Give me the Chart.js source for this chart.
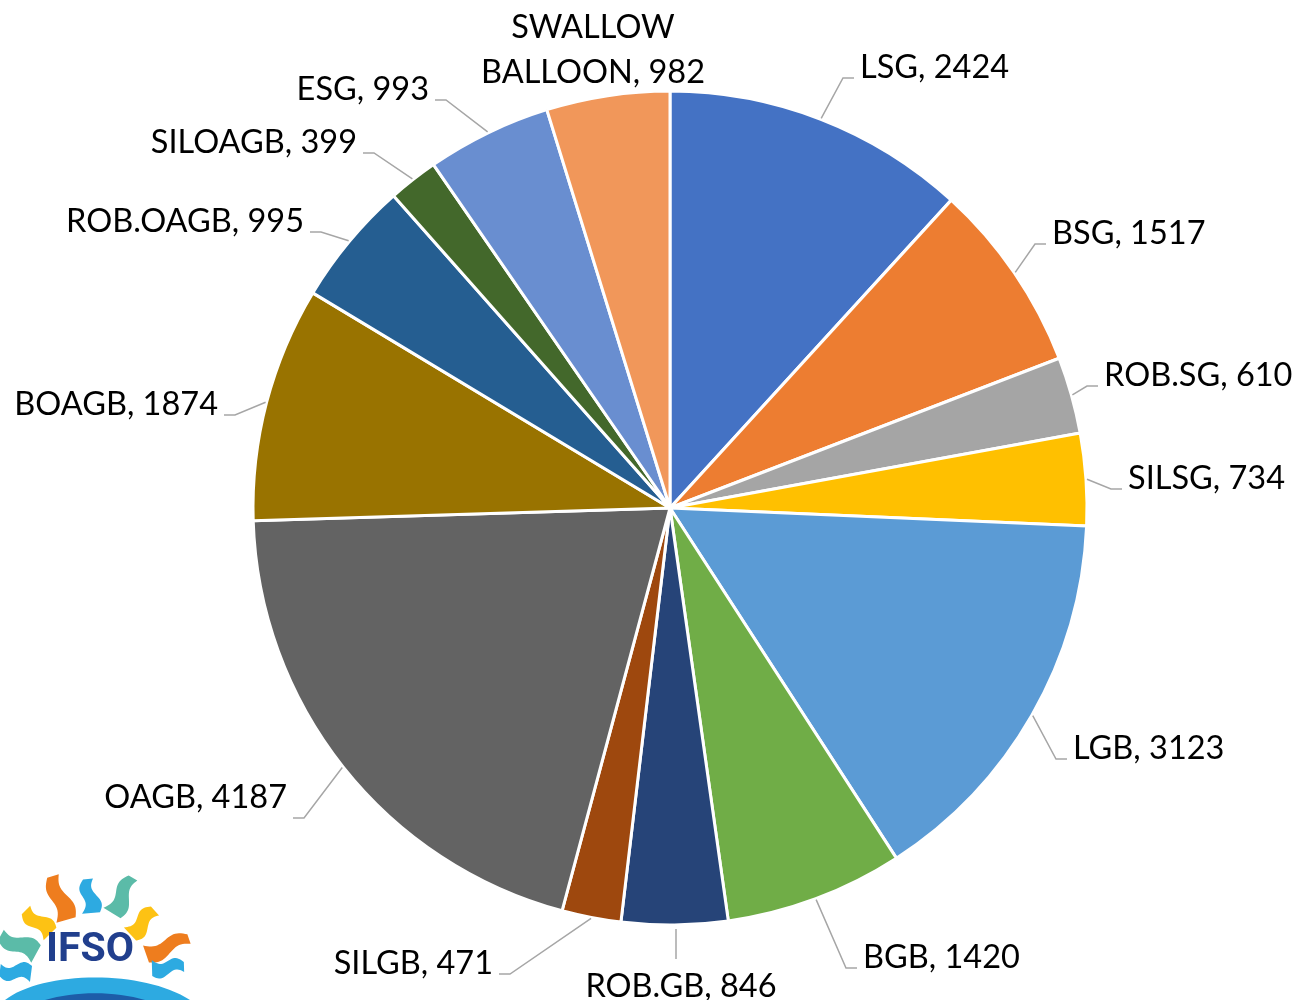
<!DOCTYPE html>
<html>
<head>
<meta charset="utf-8">
<script src="https://cdn.jsdelivr.net/npm/chart.js@4.4.1/dist/chart.umd.min.js"></script>
<style>
  html, body { margin: 0; padding: 0; background: #ffffff; }
  canvas { display: block; }
</style>
</head>
<body>
<canvas id="pie" width="1299" height="1000"></canvas>
<script>
// Procedure counts, clockwise from 12 o'clock
const categories = ['LSG', 'BSG', 'ROB.SG', 'SILSG', 'LGB', 'BGB', 'ROB.GB', 'SILGB',
                    'OAGB', 'BOAGB', 'ROB.OAGB', 'SILOAGB', 'ESG', 'SWALLOW BALLOON'];
const counts = [2424, 1517, 610, 734, 3123, 1420, 846, 471, 4187, 1874, 995, 399, 993, 982];

// Office palette
const sliceColors = ['#4472C4', '#ED7D31', '#A5A5A5', '#FFC000', '#5B9BD5', '#70AD47', '#264478',
                     '#9E480E', '#636363', '#997300', '#255E91', '#43682B', '#698ED0', '#F1975A'];

// Where each callout ends, relative to the pie centre.
// side: R = text to the right, L = text to the left, B = text below, T = text above (no leader)
const calloutSpots = [
  { dx: 184,  dy: -430, side: 'R' },
  { dx: 376,  dy: -264, side: 'R' },
  { dx: 428,  dy: -122, side: 'R' },
  { dx: 452,  dy: -19,  side: 'R' },
  { dx: 397,  dy: 251,  side: 'R' },
  { dx: 187,  dy: 460,  side: 'R' },
  { dx: 6,    dy: 451,  side: 'B' },
  { dx: -171, dy: 466,  side: 'L' },
  { dx: -377, dy: 310,  side: 'L', base: -10 },
  { dx: -446, dy: -93,  side: 'L' },
  { dx: -360, dy: -276, side: 'L' },
  { dx: -307, dy: -355, side: 'L' },
  { dx: -235, dy: -408, side: 'L' },
  { dx: -77,  dy: -470, side: 'T', wrap: 250 }
];

const LABEL_FONT = '32.5px Lato, "Open Sans", sans-serif';

function wrapText(ctx, text, maxW) {
  if (!maxW) return [text];
  const words = text.split(' ');
  const lines = [];
  let cur = '';
  words.forEach(w => {
    const t = cur ? cur + ' ' + w : w;
    if (cur && ctx.measureText(t).width > maxW) { lines.push(cur); cur = w; }
    else cur = t;
  });
  if (cur) lines.push(cur);
  return lines;
}

const calloutPlugin = {
  id: 'callouts',
  afterDatasetsDraw(chart) {
    const ctx = chart.ctx;
    const meta = chart.getDatasetMeta(0);
    const labels = chart.data.labels;
    const values = chart.data.datasets[0].data;
    ctx.save();
    ctx.font = LABEL_FONT;
    ctx.fillStyle = '#000000';
    ctx.strokeStyle = '#A6A6A6';
    ctx.lineWidth = 1.5;
    meta.data.forEach((arc, i) => {
      const p = arc.getProps(['x', 'y', 'startAngle', 'endAngle', 'outerRadius'], true);
      const mid = (p.startAngle + p.endAngle) / 2;
      const sx = p.x + Math.cos(mid) * (p.outerRadius + 1);
      const sy = p.y + Math.sin(mid) * (p.outerRadius + 1);
      const spot = calloutSpots[i];
      const ex = p.x + spot.dx;
      const ey = p.y + spot.dy;
      const text = labels[i] + ', ' + values[i];
      const lines = wrapText(ctx, text, spot.wrap);
      const base = spot.base || 0;

      if (spot.side === 'R' || spot.side === 'L') {
        const dir = spot.side === 'R' ? 1 : -1;
        ctx.beginPath();
        ctx.moveTo(sx, sy);
        ctx.lineTo(ex - dir * 11, ey);
        ctx.lineTo(ex, ey);
        ctx.stroke();
        ctx.textAlign = spot.side === 'R' ? 'left' : 'right';
        ctx.textBaseline = 'alphabetic';
        ctx.fillText(lines[0], ex + dir * 6, ey + base);
      } else if (spot.side === 'B') {
        ctx.beginPath();
        ctx.moveTo(p.x + spot.dx, sy + 3);
        ctx.lineTo(ex, ey);
        ctx.stroke();
        ctx.textAlign = 'center';
        ctx.textBaseline = 'alphabetic';
        ctx.fillText(lines[0], ex + 5, ey + 38);
      } else {
        ctx.textAlign = 'center';
        ctx.textBaseline = 'alphabetic';
        lines.forEach((ln, k) => ctx.fillText(ln, ex, ey + k * 45));
      }
    });
    ctx.restore();
  }
};

// Small society emblem in the lower-left corner
function flameRay(ctx, bx, by, tx, ty, color, halfBase, halfTip) {
  const dx = tx - bx, dy = ty - by;
  const len = Math.hypot(dx, dy);
  const nx = -dy / len, ny = dx / len;
  const left = [], right = [];
  for (let k = 0; k <= 24; k++) {
    const t = k / 24;
    const off = Math.sin(t * Math.PI * 2) * 3.5;
    const hw = halfBase + (halfTip - halfBase) * t;
    const cx = bx + dx * t + nx * off;
    const cy = by + dy * t + ny * off;
    left.push([cx + nx * hw, cy + ny * hw]);
    right.push([cx - nx * hw, cy - ny * hw]);
  }
  ctx.beginPath();
  left.forEach((q, k) => k === 0 ? ctx.moveTo(q[0], q[1]) : ctx.lineTo(q[0], q[1]));
  right.reverse().forEach(q => ctx.lineTo(q[0], q[1]));
  ctx.closePath();
  ctx.fillStyle = color;
  ctx.fill();
}

const emblemPlugin = {
  id: 'emblem',
  afterDraw(chart) {
    const ctx = chart.ctx;
    ctx.save();
    const orange = '#EE7D1E', blue = '#2DAAE1', teal = '#5BBBA8', yellow = '#FDC214';
    flameRay(ctx, 66, 920, 53, 876, orange, 10, 6);
    flameRay(ctx, 91, 913, 88, 879, blue, 9, 5);
    flameRay(ctx, 112, 913, 133, 878, teal, 10, 5);
    flameRay(ctx, 50, 934, 26, 910, yellow, 9, 6);
    flameRay(ctx, 130, 934, 155, 911, yellow, 9, 6);
    flameRay(ctx, 36, 954, 1, 935, teal, 10, 6);
    flameRay(ctx, 146, 954, 189, 939, orange, 9, 5);
    flameRay(ctx, 31, 974, 0, 970, blue, 8, 6);
    flameRay(ctx, 152, 968, 184, 967, blue, 8, 5);
    // white disc behind the lettering
    ctx.fillStyle = '#ffffff';
    ctx.beginPath();
    ctx.arc(92, 985, 48, Math.PI, 2 * Math.PI);
    ctx.fill();
    // sea
    ctx.fillStyle = blue;
    ctx.beginPath();
    ctx.moveTo(5, 1000);
    ctx.bezierCurveTo(40, 972, 140, 968, 190, 1000);
    ctx.closePath();
    ctx.fill();
    ctx.fillStyle = '#1D5CA8';
    ctx.beginPath();
    ctx.moveTo(45, 1000);
    ctx.bezierCurveTo(75, 991, 115, 991, 145, 1000);
    ctx.closePath();
    ctx.fill();
    // name
    ctx.fillStyle = '#213F8D';
    ctx.font = 'bold 41px Roboto, "Liberation Sans", sans-serif';
    ctx.textAlign = 'left';
    ctx.textBaseline = 'alphabetic';
    ctx.fillText('IFSO', 46, 961);
    ctx.restore();
  }
};

new Chart(document.getElementById('pie'), {
  type: 'pie',
  data: {
    labels: categories,
    datasets: [{
      data: counts,
      backgroundColor: sliceColors,
      borderColor: '#ffffff',
      borderWidth: 3
    }]
  },
  options: {
    responsive: false,
    animation: false,
    devicePixelRatio: 1,
    radius: 417,
    layout: { padding: { left: 141, right: 100, top: 66, bottom: 50 } },
    plugins: {
      legend: { display: false },
      tooltip: { enabled: false }
    }
  },
  plugins: [calloutPlugin, emblemPlugin]
});
</script>
</body>
</html>
